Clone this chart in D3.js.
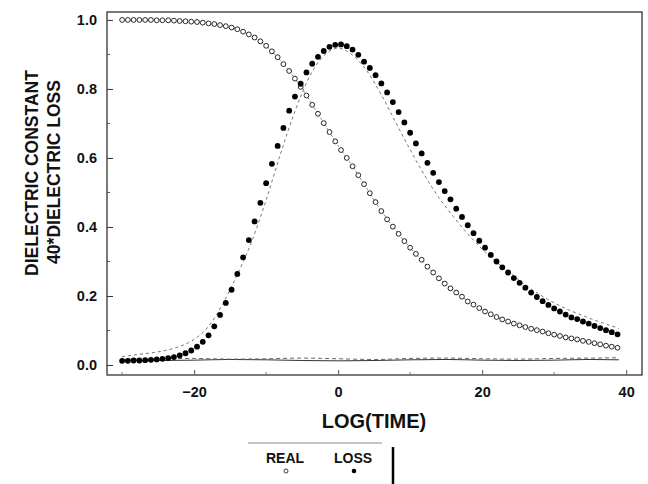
<!DOCTYPE html>
<html>
<head>
<meta charset="utf-8">
<script src="https://cdn.jsdelivr.net/npm/d3@7"></script>
<style>
  body { margin: 0; background: #fff; }
  text { font-family: "Liberation Sans", Arial, Helvetica, sans-serif; font-weight: bold; fill: #111; }
</style>
</head>
<body>
<div id="vis"></div>
<script>
// measured points, log(time) axis
var logTime = [-30, -29.2, -28.4, -27.6, -26.8, -26, -25.2, -24.4, -23.6, -22.8,
  -22, -21.2, -20.4, -19.6, -18.8, -18, -17.2, -16.4, -15.6, -14.8,
  -14, -13.2, -12.4, -11.6, -10.8, -10, -9.2, -8.4, -7.6, -6.8,
  -6, -5.2, -4.4, -3.6, -2.8, -2, -1.2, -0.4, 0.4, 1.2,
  2, 2.8, 3.6, 4.4, 5.2, 6, 6.8, 7.6, 8.4, 9.2,
  10, 10.8, 11.6, 12.4, 13.2, 14, 14.8, 15.6, 16.4, 17.2,
  18, 18.8, 19.6, 20.4, 21.2, 22, 22.8, 23.6, 24.4, 25.2,
  26, 26.8, 27.6, 28.4, 29.2, 30, 30.8, 31.6, 32.4, 33.2,
  34, 34.8, 35.6, 36.4, 37.2, 38, 38.8];

var realValues = [1.000, 1.000, 1.000, 1.000, 1.000, 1.000, 0.999, 0.999, 0.999, 0.998,
  0.997, 0.996, 0.995, 0.994, 0.992, 0.990, 0.988, 0.985, 0.982, 0.978,
  0.973, 0.966, 0.958, 0.949, 0.938, 0.925, 0.909, 0.892, 0.872, 0.852,
  0.830, 0.806, 0.781, 0.754, 0.728, 0.701, 0.675, 0.648, 0.623, 0.600,
  0.576, 0.550, 0.524, 0.498, 0.472, 0.446, 0.422, 0.401, 0.380, 0.359,
  0.340, 0.322, 0.305, 0.285, 0.268, 0.251, 0.236, 0.222, 0.210, 0.198,
  0.184, 0.175, 0.165, 0.155, 0.147, 0.139, 0.132, 0.126, 0.120, 0.115,
  0.110, 0.105, 0.101, 0.097, 0.092, 0.088, 0.084, 0.080, 0.077, 0.074,
  0.070, 0.067, 0.063, 0.060, 0.056, 0.053, 0.050];

var lossValues = [0.012, 0.012, 0.013, 0.013, 0.014, 0.015, 0.016, 0.018, 0.020, 0.023,
  0.028, 0.034, 0.042, 0.053, 0.067, 0.086, 0.112, 0.145, 0.180, 0.218,
  0.264, 0.312, 0.362, 0.416, 0.470, 0.527, 0.583, 0.635, 0.687, 0.737,
  0.778, 0.815, 0.848, 0.873, 0.893, 0.910, 0.922, 0.928, 0.929, 0.924,
  0.914, 0.899, 0.879, 0.861, 0.840, 0.816, 0.790, 0.762, 0.733, 0.703,
  0.673, 0.642, 0.613, 0.586, 0.557, 0.530, 0.504, 0.480, 0.453, 0.429,
  0.405, 0.382, 0.360, 0.340, 0.319, 0.300, 0.283, 0.268, 0.252, 0.238,
  0.224, 0.210, 0.197, 0.185, 0.174, 0.164, 0.155, 0.146, 0.138, 0.133,
  0.126, 0.120, 0.113, 0.107, 0.101, 0.095, 0.089];

// fitted curves
var fitTime = [-30, -28, -26, -24, -22, -20, -18, -16, -14, -12,
  -10, -8, -6, -4, -2, 0, 2, 4, 6, 8,
  10, 12, 14, 16, 18, 20, 22, 24, 26, 28,
  30, 32, 34, 36, 38, 39];
var realFit = [1.000, 1.000, 1.000, 0.999, 0.997, 0.995, 0.990, 0.984, 0.973, 0.953,
  0.925, 0.882, 0.830, 0.768, 0.701, 0.636, 0.576, 0.511, 0.446, 0.390,
  0.340, 0.295, 0.251, 0.216, 0.186, 0.160, 0.139, 0.123, 0.110, 0.099,
  0.088, 0.079, 0.070, 0.062, 0.054, 0.051];
var lossFit = [0.024, 0.030, 0.035, 0.042, 0.054, 0.074, 0.112, 0.178, 0.262, 0.358,
  0.478, 0.612, 0.735, 0.835, 0.896, 0.918, 0.898, 0.852, 0.783, 0.703,
  0.624, 0.550, 0.485, 0.430, 0.380, 0.336, 0.298, 0.265, 0.232, 0.204,
  0.180, 0.160, 0.143, 0.127, 0.113, 0.106];

// near-zero traces along the bottom
var baseTime = [-30, -25, -20, -15, -10, -5, 0, 5, 10, 15, 20, 25, 30, 35, 39];
var baseSolid = [0.013, 0.013, 0.014, 0.016, 0.015, 0.013, 0.012, 0.013, 0.015, 0.016, 0.014, 0.013, 0.014, 0.016, 0.015];
var baseDashed = [0.016, 0.018, 0.019, 0.017, 0.018, 0.020, 0.018, 0.016, 0.019, 0.020, 0.018, 0.017, 0.019, 0.020, 0.021];

var yTicks = [0, 0.2, 0.4, 0.6, 0.8, 1.0];
var yMinor = [0.1, 0.3, 0.5, 0.7, 0.9];
var xTicks = [-20, 0, 20, 40];
var xMinor = [-30, -10, 10, 30];

var W = 648, H = 484;
var plot = {left: 107, right: 642, top: 12, bottom: 375};

var svg = d3.select("#vis").append("svg")
  .attr("width", W)
  .attr("height", H);

var x = d3.scaleLinear().domain([-32.1, 42.2]).range([plot.left, plot.right]);
var y = d3.scaleLinear().domain([-0.029, 1.023]).range([plot.bottom, plot.top]);

// frame
svg.append("rect")
  .attr("x", plot.left).attr("y", plot.top)
  .attr("width", plot.right - plot.left).attr("height", plot.bottom - plot.top)
  .attr("fill", "none").attr("stroke", "#222").attr("stroke-width", 1.2);

// y axis
var gy = svg.append("g")
  .attr("transform", "translate(" + plot.left + ",0)")
  .call(d3.axisLeft(y).tickValues(yTicks).tickFormat(d3.format(".1f"))
    .tickSizeInner(-6).tickSizeOuter(0).tickPadding(10));
gy.select(".domain").remove();
gy.selectAll("text").style("font-size", "14.5px").attr("fill", "#111");
gy.selectAll("line").attr("stroke", "#333");

svg.append("g").selectAll("line").data(yMinor).enter().append("line")
  .attr("x1", plot.left).attr("x2", plot.left + 3)
  .attr("y1", d => y(d)).attr("y2", d => y(d))
  .attr("stroke", "#555");

// x axis
var gx = svg.append("g")
  .attr("transform", "translate(0," + plot.bottom + ")")
  .call(d3.axisBottom(x).tickValues(xTicks).tickFormat(d3.format("d"))
    .tickSizeInner(-5).tickSizeOuter(0).tickPadding(12));
gx.select(".domain").remove();
gx.selectAll("text").style("font-size", "14.5px").attr("fill", "#111");
gx.selectAll("line").attr("stroke", "#555");

svg.append("g").selectAll("line").data(xMinor).enter().append("line")
  .attr("x1", d => x(d)).attr("x2", d => x(d))
  .attr("y1", plot.bottom).attr("y2", plot.bottom - 3)
  .attr("stroke", "#777");

// axis titles
svg.append("text")
  .attr("transform", "translate(38,173) rotate(-90)")
  .attr("text-anchor", "middle")
  .style("font-size", "17.5px")
  .text("DIELECTRIC CONSTANT");
svg.append("text")
  .attr("transform", "translate(60,172) rotate(-90)")
  .attr("text-anchor", "middle")
  .style("font-size", "17.5px")
  .text("40*DIELECTRIC LOSS");
svg.append("text")
  .attr("x", 374).attr("y", 428)
  .attr("text-anchor", "middle")
  .style("font-size", "20px")
  .text("LOG(TIME)");

var line = d3.line().x(d => x(d[0])).y(d => y(d[1])).curve(d3.curveMonotoneX);

// bottom traces
svg.append("path")
  .datum(d3.zip(baseTime, baseSolid))
  .attr("d", line)
  .attr("fill", "none").attr("stroke", "#333").attr("stroke-width", 1);
svg.append("path")
  .datum(d3.zip(baseTime, baseDashed))
  .attr("d", line)
  .attr("fill", "none").attr("stroke", "#666").attr("stroke-width", 1)
  .attr("stroke-dasharray", "4,3");

// fits
svg.append("path")
  .datum(d3.zip(fitTime, realFit))
  .attr("d", line)
  .attr("fill", "none").attr("stroke", "#777").attr("stroke-width", 1)
  .attr("stroke-dasharray", "2,2");
svg.append("path")
  .datum(d3.zip(fitTime, lossFit))
  .attr("d", line)
  .attr("fill", "none").attr("stroke", "#777").attr("stroke-width", 1)
  .attr("stroke-dasharray", "3,3");

// real: open circles
svg.append("g").selectAll("circle")
  .data(d3.zip(logTime, realValues))
  .enter().append("circle")
  .attr("cx", d => x(d[0])).attr("cy", d => y(d[1]))
  .attr("r", 2.4)
  .attr("fill", "white").attr("stroke", "#111").attr("stroke-width", 0.9);

// loss: filled dots
svg.append("g").selectAll("circle")
  .data(d3.zip(logTime, lossValues))
  .enter().append("circle")
  .attr("cx", d => x(d[0])).attr("cy", d => y(d[1]))
  .attr("r", 2.9)
  .attr("fill", "#000");

// legend
var legend = svg.append("g");
legend.append("line")
  .attr("x1", 248).attr("x2", 382).attr("y1", 443).attr("y2", 443)
  .attr("stroke", "#888").attr("stroke-width", 1);
legend.append("line")
  .attr("x1", 393).attr("x2", 393).attr("y1", 447).attr("y2", 484)
  .attr("stroke", "#000").attr("stroke-width", 2.5);
legend.append("text")
  .attr("x", 285).attr("y", 463).attr("text-anchor", "middle")
  .style("font-size", "14px").text("REAL");
legend.append("text")
  .attr("x", 353).attr("y", 463).attr("text-anchor", "middle")
  .style("font-size", "14px").text("LOSS");
legend.append("circle")
  .attr("cx", 286).attr("cy", 471).attr("r", 2)
  .attr("fill", "white").attr("stroke", "#111").attr("stroke-width", 0.8);
legend.append("circle")
  .attr("cx", 354).attr("cy", 471).attr("r", 2.3)
  .attr("fill", "#000");
</script>
</body>
</html>
